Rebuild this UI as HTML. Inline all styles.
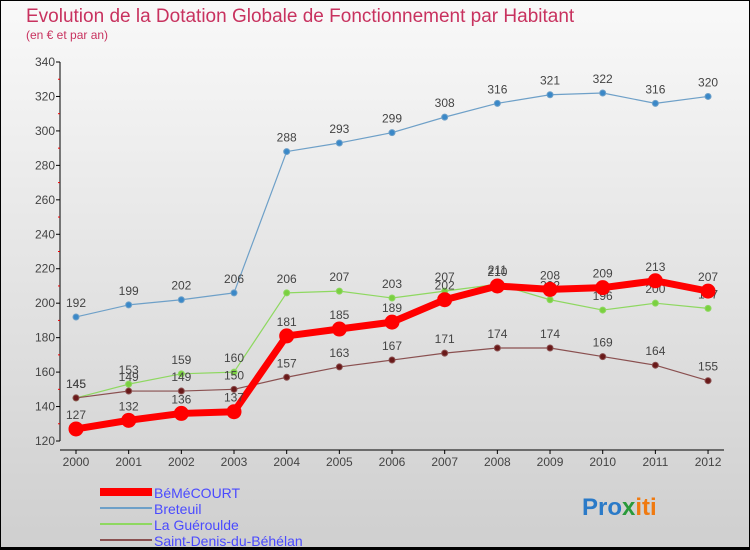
<!DOCTYPE html>
<html><head><meta charset="utf-8"><style>
body{margin:0}
#c{width:750px;height:550px;position:relative;box-sizing:border-box;border:1px solid #000;border-bottom:3px solid #000;background:linear-gradient(#f9f9f9,#cfcfcf);font-family:"Liberation Sans",sans-serif;overflow:hidden}
</style></head><body>
<div id="c">
<svg id="s" width="750" height="550" style="position:absolute;left:-1px;top:-1px">
<text x="26" y="22" font-size="19" fill="#c8325f">Evolution de la Dotation Globale de Fonctionnement par Habitant</text>
<text x="26" y="39" font-size="12" fill="#c8325f">(en € et par an)</text>
<g id="ax"></g><g id="series"></g>
<g>
<rect x="100" y="488" width="52" height="8" fill="#f00"/>
<line x1="100" y1="508" x2="152" y2="508" stroke="#6ea0c8" stroke-width="2"/>
<line x1="100" y1="524" x2="152" y2="524" stroke="#8ed860" stroke-width="2"/>
<line x1="100" y1="540" x2="152" y2="540" stroke="#8a5050" stroke-width="2"/>
<text x="154" y="498" font-size="14" fill="#4a4aff">BéMéCOURT</text>
<text x="154" y="514" font-size="14" fill="#4a4aff">Breteuil</text>
<text x="154" y="530" font-size="14" fill="#4a4aff">La Guéroulde</text>
<text x="154" y="546" font-size="14" fill="#4a4aff">Saint-Denis-du-Béhélan</text>
</g>
<text x="582" y="515" font-size="24" font-weight="bold"><tspan fill="#2a7ac8">Pro</tspan><tspan fill="#2a9a3a">x</tspan><tspan fill="#f07a10">iti</tspan></text>
</svg>
</div>
<script>
const years=[2000,2001,2002,2003,2004,2005,2006,2007,2008,2009,2010,2011,2012];
const yTicks=[120,140,160,180,200,220,240,260,280,300,320,340];
const bemecourt=[127,132,136,137,181,185,189,202,210,208,209,213,207];
const breteuil=[192,199,202,206,288,293,299,308,316,321,322,316,320];
const gueroulde=[145,153,159,160,206,207,203,207,211,202,196,200,197];
const saintDenis=[145,149,149,150,157,163,167,171,174,174,169,164,155];
const NS="http://www.w3.org/2000/svg";
const X=v=>76+(v-2000)*52.67, Y=v=>441-(v-120)*1.7227;
function mk(t,a,p){const e=document.createElementNS(NS,t);for(const k in a)e.setAttribute(k,a[k]);p.appendChild(e);return e;}
const ax=document.getElementById('ax');
let l=mk('line',{x1:60,y1:Y(340),x2:60,y2:Y(120),stroke:'#000'},ax);


l=mk('line',{x1:60,y1:450,x2:724,y2:450,stroke:'#000'},ax);


yTicks.forEach(v=>{
 mk('line',{x1:56,y1:Y(v),x2:60,y2:Y(v),stroke:'#000'},ax);
 if(v<340) mk('line',{x1:58,y1:Y(v+10),x2:60,y2:Y(v+10),stroke:'#e00'},ax);
 const t=mk('text',{x:55,y:Y(v)+4,'font-size':12,fill:'#444','text-anchor':'end'},ax);t.textContent=v;
 
 
});
years.forEach(y=>{
 mk('line',{x1:X(y),y1:450,x2:X(y),y2:454,stroke:'#000'},ax);
 const t=mk('text',{x:X(y),y:466,'font-size':12,fill:'#444','text-anchor':'middle'},ax);t.textContent=y;
 
 
});
const sg=document.getElementById('series');
function draw(name,data,color,w,r,dot){
 const g=mk('g',{},sg);
 
 
 mk('polyline',{points:data.map((v,i)=>X(years[i])+','+Y(v)).join(' '),fill:'none',stroke:color,'stroke-width':w,'stroke-linejoin':'round'},g);
 data.forEach((v,i)=>{
  const c=mk('circle',{cx:X(years[i]),cy:Y(v),r:r,fill:dot,stroke:color,'stroke-width':1},g);
  
  
  const t=mk('text',{x:X(years[i]),y:Y(v)-10,'font-size':12,fill:'#444','text-anchor':'middle'},g);t.textContent=v;
  
  
 });
}
draw('breteuil',breteuil,'#6ea0c8',1.2,3,'#3a88c8');
draw('la-gueroulde',gueroulde,'#8ed860',1.2,3,'#7ad040');
draw('saint-denis',saintDenis,'#8a5050',1.2,3,'#6a1a1a');
draw('bemecourt',bemecourt,'#f00',7,7,'#f00');
</script>
</body></html>
